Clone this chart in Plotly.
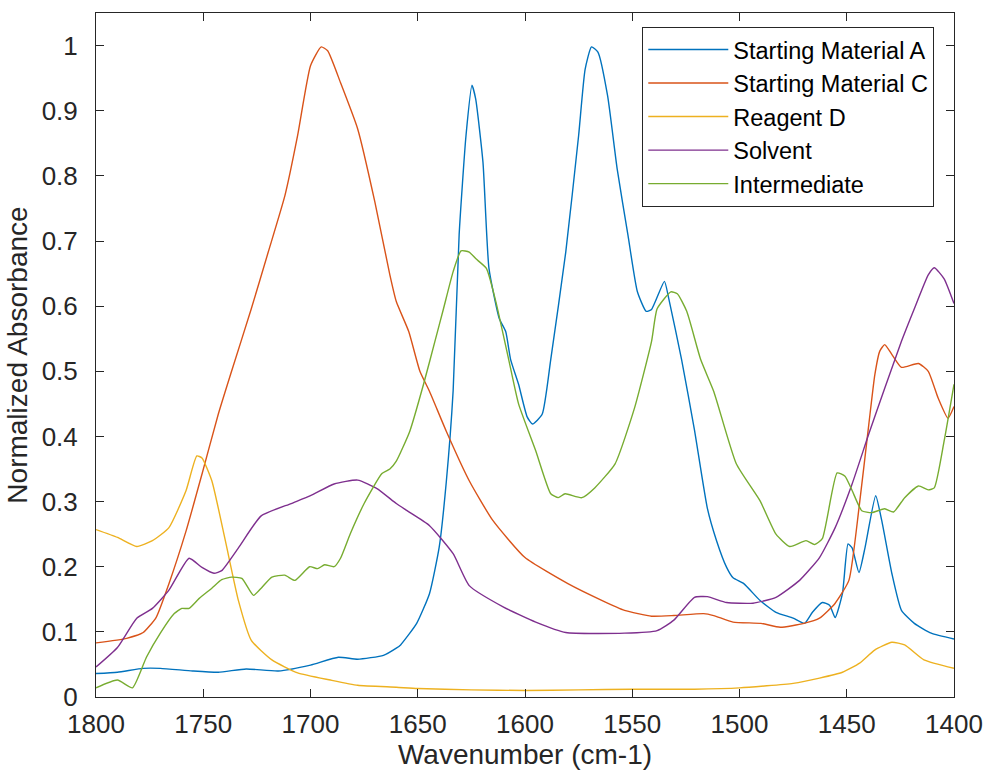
import plotly.graph_objects as go

# ---------------- data ----------------
series_names = ["Starting Material A", "Starting Material C", "Reagent D", "Solvent", "Intermediate"]
series_colors = ["#0072BD", "#D95319", "#EDB120", "#7E2F8E", "#77AC30"]

wn_A = [1800, 1790, 1778, 1770, 1755, 1743, 1730, 1715, 1700, 1687, 1678, 1666, 1660, 1658,
        1650.5, 1644.5, 1640, 1636.7, 1633.5, 1630.7, 1627.5, 1624.7, 1623, 1619.6, 1616.8,
        1612, 1609, 1606.7, 1603, 1599, 1596.5, 1592, 1588, 1581, 1575, 1572, 1569, 1566,
        1561.5, 1557, 1552, 1547.6, 1543.5, 1541, 1535, 1533, 1527, 1521, 1515, 1510.7, 1506,
        1503, 1498, 1490.4, 1483, 1475, 1469.7, 1466, 1461.4, 1458, 1455.4, 1452, 1449.4,
        1447.5, 1444.3, 1441.5, 1436.5, 1433.7, 1429, 1424.5, 1418.5, 1410.6, 1400]
abs_A = [0.036, 0.038, 0.044, 0.044, 0.040, 0.038, 0.043, 0.040, 0.049, 0.061, 0.058, 0.064, 0.075, 0.080,
         0.113, 0.159, 0.23, 0.33, 0.47, 0.71, 0.862, 0.939, 0.918, 0.821, 0.658,
         0.581, 0.561, 0.518, 0.48, 0.43, 0.419, 0.434, 0.518, 0.683, 0.862, 0.963, 0.998, 0.99,
         0.923, 0.81, 0.709, 0.622, 0.592, 0.595, 0.638, 0.612, 0.518, 0.41, 0.29, 0.24, 0.199,
         0.183, 0.174, 0.148, 0.13, 0.121, 0.113, 0.13, 0.145, 0.141, 0.122, 0.159, 0.235,
         0.229, 0.191, 0.229, 0.309, 0.271, 0.19, 0.133, 0.113, 0.098, 0.089]

wn_C = [1800, 1785.7, 1778, 1772, 1766, 1758, 1750.6, 1743, 1736.8, 1727.6, 1719.7, 1711.9, 1706,
        1700, 1695, 1692, 1686, 1678, 1670, 1663, 1660, 1654.2, 1649, 1644.5, 1636.7, 1626, 1615,
        1600, 1580, 1564, 1553.6, 1541, 1530.6, 1516.7, 1512, 1503, 1490, 1481, 1470, 1462.7,
        1455.4, 1449, 1444.3, 1439.7, 1436.9, 1434.6, 1432.3, 1429, 1424.5, 1416.6, 1412,
        1407.4, 1402.8, 1400]
abs_C = [0.083, 0.090, 0.099, 0.122, 0.174, 0.255, 0.342, 0.434, 0.5, 0.596, 0.683, 0.77, 0.862,
         0.969, 0.998, 0.992, 0.943, 0.872, 0.76, 0.648, 0.607, 0.561, 0.5, 0.469, 0.408, 0.332, 0.271,
         0.214, 0.174, 0.148, 0.133, 0.124, 0.125, 0.128, 0.125, 0.115, 0.113, 0.107, 0.113, 0.121,
         0.144, 0.179, 0.29, 0.419, 0.495, 0.531, 0.541, 0.526, 0.506, 0.512, 0.5,
         0.459, 0.428, 0.446]

wn_D = [1800, 1790, 1781, 1773.7, 1766, 1758, 1753, 1750.6, 1746, 1739.7, 1733.6, 1727.6, 1718,
        1706, 1690.7, 1678, 1660, 1650, 1625, 1600, 1575, 1550, 1521, 1500, 1475, 1462.7, 1452,
        1444, 1437, 1429, 1423, 1414, 1400]
abs_D = [0.257, 0.245, 0.231, 0.24, 0.26, 0.317, 0.37, 0.367, 0.332, 0.24, 0.148, 0.087, 0.057,
         0.037, 0.026, 0.018, 0.015, 0.013, 0.011, 0.010, 0.011, 0.012, 0.012, 0.014, 0.021, 0.029, 0.038,
         0.052, 0.072, 0.084, 0.08, 0.057, 0.044]

wn_S = [1800, 1790, 1781, 1773.7, 1766, 1756.6, 1750.6, 1745, 1741.4, 1733.6, 1723, 1709, 1700,
        1689, 1678, 1669, 1660, 1655, 1644.5, 1633.5, 1626, 1610, 1595, 1581, 1553.6, 1538.4,
        1530.6, 1521, 1515, 1506, 1493.7, 1483, 1472, 1462.7, 1455.4, 1447.5, 1439.7, 1432.3,
        1424.5, 1418.5, 1412, 1409.2, 1404.6, 1400]
abs_S = [0.046, 0.076, 0.121, 0.136, 0.164, 0.213, 0.199, 0.19, 0.194, 0.229, 0.278, 0.297, 0.309,
         0.327, 0.333, 0.32, 0.297, 0.286, 0.263, 0.22, 0.171, 0.138, 0.115, 0.099, 0.098, 0.102,
         0.118, 0.153, 0.154, 0.145, 0.144, 0.153, 0.179, 0.214, 0.26, 0.327, 0.404, 0.474,
         0.546, 0.596, 0.648, 0.659, 0.642, 0.604]

wn_I = [1800, 1790, 1783, 1776.5, 1770, 1763.5, 1760, 1756.6, 1752, 1746, 1741.4, 1736.8, 1732,
        1726.6, 1723, 1718, 1712, 1707.3, 1700.4, 1696.7, 1693.4, 1689, 1686, 1681.4, 1675,
        1666.7, 1663, 1660, 1653.7, 1647.3, 1642, 1638, 1633.5, 1629.8, 1626, 1623, 1618, 1613.6,
        1607.6, 1603, 1595, 1588, 1584.5, 1581.3, 1573.5, 1567.5, 1558, 1549, 1541, 1538.4, 1532,
        1529, 1524.6, 1518.1, 1512, 1501.5, 1490.4, 1483, 1476.6, 1469, 1465, 1461.4, 1454.5,
        1450.8, 1447.5, 1443, 1438.3, 1432.3, 1428.2, 1423, 1416.6, 1412, 1409.2, 1404.6, 1400]
abs_I = [0.014, 0.026, 0.014, 0.061, 0.098, 0.128, 0.136, 0.136, 0.151, 0.167, 0.18, 0.184, 0.182,
         0.156, 0.167, 0.184, 0.187, 0.179, 0.2, 0.197, 0.203, 0.2, 0.213, 0.251, 0.297,
         0.343, 0.35, 0.362, 0.408, 0.48, 0.546, 0.596, 0.653, 0.685, 0.683, 0.673, 0.658, 0.607,
         0.518, 0.45, 0.378, 0.312, 0.306, 0.312, 0.306, 0.321, 0.358, 0.443, 0.546, 0.596, 0.622,
         0.619, 0.592, 0.518, 0.469, 0.358, 0.301, 0.25, 0.231, 0.24, 0.234, 0.243, 0.344,
         0.339, 0.317, 0.286, 0.283, 0.289, 0.284, 0.306, 0.324, 0.318, 0.321, 0.393, 0.48]

x_ticks = [1800, 1750, 1700, 1650, 1600, 1550, 1500, 1450, 1400]
y_ticks = [0, 0.1, 0.2, 0.3, 0.4, 0.5, 0.6, 0.7, 0.8, 0.9, 1]
y_tick_labels = ["0", "0.1", "0.2", "0.3", "0.4", "0.5", "0.6", "0.7", "0.8", "0.9", "1"]

# ---------------- figure ----------------
FONT = "Liberation Sans, Arial, sans-serif"
AX = "#262626"

fig = go.Figure()
all_x = [wn_A, wn_C, wn_D, wn_S, wn_I]
all_y = [abs_A, abs_C, abs_D, abs_S, abs_I]
for name, color, xs, ys in zip(series_names, series_colors, all_x, all_y):
    fig.add_trace(go.Scatter(x=xs, y=ys, mode="lines", name=name,
                             line=dict(color=color, width=1.4, shape="spline", smoothing=0.5)))

axis_common = dict(showline=True, linecolor=AX, linewidth=1, mirror="ticks",
                   ticks="inside", ticklen=8, tickcolor=AX, showgrid=False, zeroline=False,
                   tickfont=dict(family=FONT, size=26, color=AX))

fig.update_xaxes(range=[1800, 1400], tickvals=x_ticks,
                 title=dict(text="Wavenumber (cm-1)", font=dict(family=FONT, size=28, color=AX), standoff=6),
                 ticklabelstandoff=4, **axis_common)
fig.update_yaxes(range=[0, 1.05], tickvals=y_ticks, ticktext=y_tick_labels,
                 title=dict(text="Normalized Absorbance", font=dict(family=FONT, size=28, color=AX), standoff=5),
                 ticklabelstandoff=12, **axis_common)

fig.update_layout(
    width=995, height=778,
    margin=dict(l=96, r=32, t=12, b=81),
    paper_bgcolor="white", plot_bgcolor="white",
    font=dict(family=FONT, color=AX),
    legend=dict(x=0.6367, y=0.98, xanchor="left", yanchor="top",
                bgcolor="white", bordercolor=AX, borderwidth=1,
                font=dict(family=FONT, size=23.5, color="black"),
                itemwidth=80, tracegroupgap=0),
    showlegend=True,
)

fig.write_html("out.html")
